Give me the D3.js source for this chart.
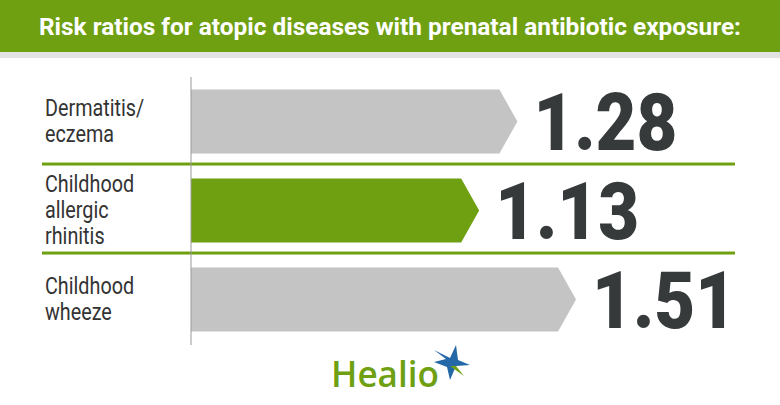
<!DOCTYPE html><html><head><script src="https://cdn.jsdelivr.net/npm/d3@7"></script>
<style>body{margin:0;background:#fff}</style></head><body><svg id="c" width="780" height="405"></svg>
<script>
const categories=[["Dermatitis/","eczema"],["Childhood","allergic","rhinitis"],["Childhood","wheeze"]];
const values=[1.28,1.13,1.51];
const labels=["1.28","1.13","1.51"];
const colors=["#c4c4c4","#6ea012","#c4c4c4"];
const svg=d3.select("#c");
svg.append("rect").attr("width",780).attr("height",52).attr("fill","#6ea012");
svg.append("rect").attr("y",52).attr("width",780).attr("height",6).attr("fill","#e2e2e2");
svg.append("text").attr("x",390).attr("y",35).attr("text-anchor","middle").attr("fill","#fff")
 .attr("font-family","Roboto").attr("font-weight",700).attr("font-size",24).attr("textLength",702).attr("lengthAdjust","spacingAndGlyphs")
 .text("Risk ratios for atopic diseases with prenatal antibiotic exposure:");
const x=d3.scaleLinear().domain([0,1]).range([191,446]);
const y=d3.scaleBand().domain([0,1,2]).range([77,344]).paddingInner(0.28).paddingOuter(0.14);
const tip=18;
values.forEach((v,i)=>{
 const y0=y(i),h=y.bandwidth(),x1=x(v);
 svg.append("path").attr("d",`M${x(0)},${y0}H${x1-tip}L${x1},${y0+h/2}L${x1-tip},${y0+h}H${x(0)}Z`).attr("fill",colors[i]);
 svg.append("text").attr("x",x1+16).attr("y",y0+h/2+28).attr("fill","#363a3b")
  .attr("font-family","Roboto").attr("font-weight",900).attr("font-size",80).attr("textLength",144).attr("lengthAdjust","spacingAndGlyphs").text(labels[i]);
 const lines=categories[i];
 const lh=26, start=y0+h/2-(lines.length-1)*lh/2+8;
 lines.forEach((l,j)=>svg.append("text").attr("x",45).attr("y",start+j*lh).attr("fill","#333")
  .attr("font-family","Roboto").attr("font-size",23).attr("transform",`translate(${45*0.14},0) scale(0.86,1)`).text(l));
 if(i<2){svg.append("rect").attr("x",42).attr("width",693).attr("y",y0+h+9).attr("height",3).attr("fill","#6ea012");}
});
svg.append("line").attr("x1",191).attr("x2",191).attr("y1",77).attr("y2",345).attr("stroke","#999").attr("stroke-width",1);
svg.append("text").attr("x",331).attr("y",387).attr("fill","#6ea012").attr("font-family","Open Sans").attr("font-weight",600).attr("font-size",36).attr("textLength",108).attr("lengthAdjust","spacingAndGlyphs").text("Healio");
const g=svg.append("g").attr("transform","translate(448,362)");
g.append("path").attr("d","M-14,-12L2,-4L8,-17L10,-2L22,3L8,4L2,18L-1,5L-14,0L-2,-3Z").attr("fill","#2468a8");
g.append("path").attr("d","M2,4L16,14L8,4Z").attr("fill","#6ea012");
</script></body></html>
